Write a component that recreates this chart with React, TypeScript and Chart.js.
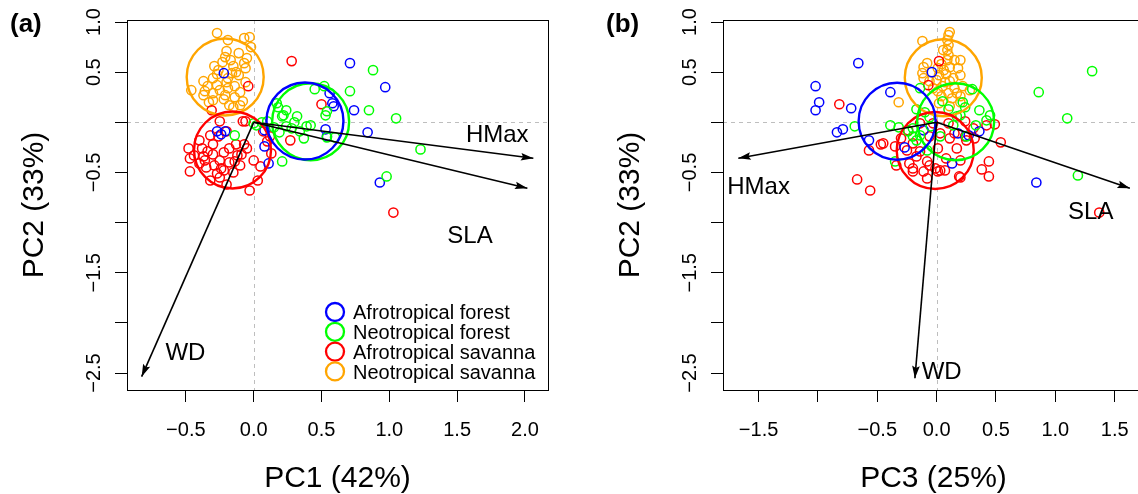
import React, { useEffect, useRef } from "react";
import { Chart, registerables } from "chart.js";

Chart.register(...registerables);

type Pt = [number, number];

const FONT = "'Liberation Sans', Arial, Helvetica, sans-serif";

// ---------- shared ----------
const groupLabels = ["Afrotropical forest", "Neotropical forest", "Afrotropical savanna", "Neotropical savanna"];
const groupColors = ["#0000FF", "#00FF00", "#FF0000", "#FFA500"];
const arrowNames = ["HMax", "SLA", "WD"];
const yTicks = [-2.5, -2, -1.5, -1, -0.5, 0, 0.5, 1];
const yTickLabels = ["−2.5", "", "−1.5", "", "−0.5", "", "0.5", "1.0"];
const yTitle = "PC2 (33%)";
const yRange: Pt = [-2.669, 1.02];

// ---------- panel (a): PC1 vs PC2 ----------
const blueA: Pt[] = [
  [-0.22, 0.49], [-0.27, -0.09], [-0.24, -0.12], [-0.21, -0.09], [0.08, -0.24], [0.11, -0.41],
  [0.08, -0.08], [0.71, 0.59], [0.97, 0.35], [0.74, 0.12], [0.84, -0.1], [0.93, -0.6],
  [0.56, 0.29], [0.58, 0.19], [0.59, 0.16], [0.53, -0.07], [0.54, -0.14],
];
const greenA: Pt[] = [
  [0.88, 0.52], [0.71, 0.31], [0.85, 0.12], [1.05, 0.04], [1.23, -0.27], [0.98, -0.54],
  [0.45, 0.33], [0.52, 0.36], [0.17, 0.19], [0.24, 0.12], [0.22, 0.07], [0.32, 0.06],
  [0.39, -0.04], [0.42, -0.03], [0.24, -0.04], [0.28, -0.06], [0.19, -0.1], [0.34, -0.09],
  [0.37, -0.16], [0.53, 0.07], [0.54, 0.11], [0.54, -0.15], [0.6, -0.15], [0.21, -0.39],
  [0.02, -0.03], [0.1, 0.01], [0.0, -0.01], [0.06, 0.0], [-0.14, -0.13], [0.21, 0.06],
  [0.18, 0.15], [0.3, 0.0], [0.15, -0.05],
];
const redA: Pt[] = [
  [-0.48, -0.26], [-0.47, -0.49], [-0.38, -0.26], [-0.37, -0.34], [-0.4, -0.41], [-0.34, -0.29],
  [-0.3, -0.32], [-0.25, -0.38], [-0.29, -0.43], [-0.27, -0.51], [-0.25, -0.55], [-0.22, -0.48],
  [-0.18, -0.26], [-0.13, -0.22], [-0.07, -0.22], [-0.09, -0.32], [-0.14, -0.39], [-0.1, -0.43],
  [0.0, -0.38], [0.03, -0.58], [-0.03, -0.68], [0.07, -0.09], [0.12, -0.14], [0.13, -0.31],
  [0.1, -0.19], [-0.25, 0.01], [-0.08, 0.01], [-0.2, -0.09], [-0.32, -0.13], [-0.06, 0.01],
  [0.28, 0.61], [-0.04, 0.36], [-0.31, 0.12], [0.5, 0.18], [0.27, -0.18], [1.03, -0.9],
  [-0.44, -0.33], [-0.35, -0.45], [-0.22, -0.3], [-0.18, -0.4], [-0.3, -0.22], [-0.26, -0.14],
  [-0.4, -0.18], [-0.15, -0.5], [-0.32, -0.58], [-0.47, -0.36], [-0.12, -0.33], [-0.05, -0.26],
  [-0.2, -0.62], [0.05, -0.44], [-0.24, -0.46], [-0.36, -0.38],
];
const orangeA: Pt[] = [
  [-0.27, 0.89], [-0.19, 0.82], [-0.07, 0.84], [-0.03, 0.85], [-0.02, 0.75], [-0.2, 0.71],
  [-0.11, 0.69], [-0.21, 0.65], [-0.17, 0.62], [-0.07, 0.59], [-0.06, 0.54], [-0.29, 0.56],
  [-0.13, 0.5], [-0.16, 0.49], [-0.27, 0.48], [-0.3, 0.44], [-0.19, 0.44], [-0.11, 0.47],
  [-0.37, 0.41], [-0.34, 0.36], [-0.27, 0.37], [-0.46, 0.32], [-0.36, 0.31], [-0.3, 0.29],
  [-0.25, 0.32], [-0.19, 0.34], [-0.06, 0.4], [-0.21, 0.27], [-0.14, 0.25], [-0.08, 0.21],
  [-0.3, 0.22], [-0.18, 0.17], [-0.1, 0.17], [-0.15, 0.15], [-0.37, 0.27], [-0.23, 0.6],
  [-0.15, 0.56], [-0.2, 0.4], [-0.26, 0.52], [-0.1, 0.3], [-0.33, 0.2], [-0.05, 0.64],
  [-0.22, 0.23], [-0.14, 0.36],
];
const centersA: Pt[] = [[0.378, 0.013], [0.42, 0.006], [-0.156, -0.276], [-0.21, 0.452]];
const arrowTipsA: Pt[] = [[2.062, -0.359], [2.018, -0.658], [-0.826, -2.536]];
const arrowLabelPosA: Pt[] = [[1.796, -0.115], [1.595, -1.114], [-0.503, -2.287]];
const xRangeA: Pt = [-0.934, 2.17];
const xTicksA = [-0.5, 0, 0.5, 1, 1.5, 2];
const xTickLabelsA = ["−0.5", "0.0", "0.5", "1.0", "1.5", "2.0"];
const xTitleA = "PC1 (42%)";

// ---------- panel (b): PC3 vs PC2 ----------
const blueB: Pt[] = [
  [-0.66, 0.59], [-1.02, 0.36], [-0.99, 0.2], [-1.02, 0.12], [-0.72, 0.14], [-0.84, -0.1],
  [-0.79, -0.07], [-0.39, 0.3], [-0.57, -0.18], [-0.27, -0.25], [-0.04, 0.5], [-0.11, -0.08],
  [0.18, -0.11], [0.27, -0.13], [0.36, -0.09], [0.13, -0.41], [0.84, -0.6],
];
const greenB: Pt[] = [
  [1.31, 0.51], [0.86, 0.3], [1.1, 0.04], [1.19, -0.53], [-0.69, -0.04], [-0.35, -0.39],
  [-0.39, -0.03], [-0.32, -0.05], [-0.14, 0.34], [-0.17, 0.13], [0.3, 0.33], [0.22, 0.2],
  [0.24, 0.15], [0.2, 0.07], [0.1, 0.13], [0.14, -0.03], [-0.06, 0.05], [-0.05, -0.04],
  [0.03, -0.14], [-0.08, -0.28], [-0.24, -0.09], [-0.2, -0.14], [-0.17, -0.18], [-0.14, -0.13],
  [0.25, -0.14], [0.33, -0.03], [0.42, 0.02], [0.45, 0.07], [0.17, 0.06], [0.05, 0.21],
  [-0.1, 0.1], [0.36, 0.12], [-0.2, -0.06],
];
const redB: Pt[] = [
  [0.02, 0.61], [-0.82, 0.18], [-0.47, -0.22], [-0.57, -0.28], [-0.67, -0.57], [-0.56, -0.68],
  [0.54, -0.2], [0.49, -0.02], [0.38, -0.47], [0.44, -0.54], [0.19, -0.54], [1.37, -0.9],
  [-0.08, -0.56], [0.01, -0.49], [-0.34, -0.43], [-0.07, 0.37], [-0.45, -0.21], [-0.35, -0.24],
  [-0.3, -0.16], [-0.24, -0.08], [-0.14, -0.01], [-0.03, -0.01], [0.1, -0.01], [0.24, 0.01],
  [0.31, -0.06], [0.42, -0.03], [-0.2, -0.21], [-0.25, -0.28], [-0.17, -0.34], [-0.23, -0.41],
  [-0.2, -0.46], [-0.2, -0.49], [-0.08, -0.39], [0.01, -0.26], [0.03, -0.48], [0.17, -0.26],
  [0.2, -0.38], [0.08, -0.36], [0.07, -0.48], [0.2, -0.55], [0.44, -0.39], [0.25, -0.18],
  [0.32, -0.16], [-0.06, -0.14], [0.03, -0.11], [0.11, -0.16], [-0.14, -0.29], [-0.06, -0.43],
  [-0.01, -0.46], [-0.11, -0.49], [0.24, -0.14], [0.15, -0.11],
];
const orangeB: Pt[] = [
  [-0.12, 0.81], [0.11, 0.9], [0.1, 0.87], [0.09, 0.82], [0.1, 0.77], [0.09, 0.72],
  [0.1, 0.67], [0.09, 0.62], [0.2, 0.62], [-0.08, 0.59], [-0.11, 0.55], [0.01, 0.54],
  [0.11, 0.55], [0.18, 0.54], [-0.12, 0.49], [0.02, 0.47], [0.08, 0.48], [0.2, 0.47],
  [-0.11, 0.44], [0.0, 0.42], [0.11, 0.41], [-0.06, 0.41], [0.05, 0.36], [0.15, 0.34],
  [0.22, 0.36], [0.01, 0.31], [0.1, 0.29], [0.17, 0.29], [0.04, 0.26], [0.13, 0.24],
  [0.2, 0.26], [0.02, 0.19], [-0.32, 0.2], [0.28, 0.32], [0.06, 0.52], [0.14, 0.44],
  [-0.03, 0.34], [0.07, 0.4], [0.15, 0.62], [0.04, 0.58], [0.2, 0.2], [0.11, 0.16],
  [0.055, 0.72],
];
const centersB: Pt[] = [[-0.333, 0.011], [0.16, 0.006], [-0.012, -0.281], [0.056, 0.444]];
const arrowTipsB: Pt[] = [[-1.671, -0.359], [1.628, -0.658], [-0.183, -2.552]];
const arrowLabelPosB: Pt[] = [[-1.5, -0.625], [1.298, -0.879], [0.042, -2.47]];
const xRangeB: Pt = [-1.8, 1.747];
const xTicksB = [-1.5, -1, -0.5, 0, 0.5, 1, 1.5];
const xTickLabelsB = ["−1.5", "", "−0.5", "0.0", "0.5", "1.0", "1.5"];
const xTitleB = "PC3 (25%)";

// ---------- panel specs ----------
interface Panel {
  tag: string;
  groups: Pt[][];
  centers: Pt[];
  tips: Pt[];
  labelPos: Pt[];
  xRange: Pt;
  xTicks: number[];
  xTickLabels: string[];
  xTitle: string;
  legend: boolean;
  left: number;
  width: number;
  yAxisWidth: number;
  padRight: number;
}

const panels: Panel[] = [
  {
    tag: "(a)", groups: [blueA, greenA, redA, orangeA], centers: centersA, tips: arrowTipsA,
    labelPos: arrowLabelPosA, xRange: xRangeA, xTicks: xTicksA, xTickLabels: xTickLabelsA,
    xTitle: xTitleA, legend: true, left: 0, width: 569, yAxisWidth: 127, padRight: 21,
  },
  {
    tag: "(b)", groups: [blueB, greenB, redB, orangeB], centers: centersB, tips: arrowTipsB,
    labelPos: arrowLabelPosB, xRange: xRangeB, xTicks: xTicksB, xTickLabels: xTickLabelsB,
    xTitle: xTitleB, legend: false, left: 569, width: 590, yAxisWidth: 154, padRight: 15,
  },
];

const HEIGHT = 494;
const X_AXIS_H = 104;
const PAD_TOP = 20;

function makePlugin(p: Panel) {
  return {
    id: "panelDecor",
    beforeDatasetsDraw(chart: any) {
      const { ctx, chartArea: a, scales } = chart;
      const x0 = scales.x.getPixelForValue(0);
      const y0 = scales.y.getPixelForValue(0);
      ctx.save();
      ctx.strokeStyle = "#BEBEBE";
      ctx.lineWidth = 1;
      ctx.setLineDash([4, 4]);
      ctx.beginPath();
      ctx.moveTo(Math.round(x0) + 0.5, a.top);
      ctx.lineTo(Math.round(x0) + 0.5, a.bottom);
      ctx.moveTo(a.left, Math.round(y0) + 0.5);
      ctx.lineTo(a.right, Math.round(y0) + 0.5);
      ctx.stroke();
      ctx.restore();
    },
    afterDatasetsDraw(chart: any) {
      const { ctx, chartArea: a, scales } = chart;
      ctx.save();
      // arrow heads
      p.tips.forEach((_, i) => {
        const meta = chart.getDatasetMeta(i);
        const s = meta.data[0];
        const e = meta.data[1];
        const ang = Math.atan2(e.y - s.y, e.x - s.x);
        const L = 13;
        const phi = 0.3;
        ctx.fillStyle = "#000";
        ctx.beginPath();
        ctx.moveTo(e.x, e.y);
        ctx.lineTo(e.x - L * Math.cos(ang - phi), e.y - L * Math.sin(ang - phi));
        ctx.lineTo(e.x - L * 0.8 * Math.cos(ang), e.y - L * 0.8 * Math.sin(ang));
        ctx.lineTo(e.x - L * Math.cos(ang + phi), e.y - L * Math.sin(ang + phi));
        ctx.closePath();
        ctx.fill();
      });
      // arrow labels
      ctx.font = `24px ${FONT}`;
      ctx.textAlign = "center";
      ctx.textBaseline = "alphabetic";
      ctx.fillStyle = "#000";
      p.labelPos.forEach((lp, i) => {
        const px = scales.x.getPixelForValue(lp[0]);
        const py = scales.y.getPixelForValue(lp[1]);
        ctx.fillText(arrowNames[i], px, py + 0.358 * 24);
      });
      // legend
      if (p.legend) {
        const mx = a.left + 208;
        const my0 = a.bottom - 78;
        ctx.font = `20px ${FONT}`;
        ctx.textAlign = "left";
        groupLabels.forEach((lab, i) => {
          const my = my0 + 19.8 * i;
          ctx.strokeStyle = groupColors[i];
          ctx.lineWidth = 2.3;
          ctx.beginPath();
          ctx.arc(mx, my, 9, 0, Math.PI * 2);
          ctx.stroke();
          ctx.fillStyle = "#000";
          ctx.fillText(lab, mx + 18, my + 0.358 * 20);
        });
      }
      ctx.restore();
    },
    afterDraw(chart: any) {
      const { ctx, chartArea: a, scales } = chart;
      ctx.save();
      // box
      ctx.strokeStyle = "#000";
      ctx.lineWidth = 1;
      ctx.strokeRect(Math.round(a.left) + 0.5, Math.round(a.top) + 0.5,
        Math.round(a.right - a.left), Math.round(a.bottom - a.top));
      ctx.fillStyle = "#000";
      // x tick labels
      ctx.font = `20px ${FONT}`;
      ctx.textAlign = "center";
      ctx.textBaseline = "alphabetic";
      p.xTicks.forEach((v, i) => {
        const lab = p.xTickLabels[i];
        if (!lab) return;
        ctx.fillText(lab, scales.x.getPixelForValue(v), a.bottom + 46);
      });
      // y tick labels (rotated)
      yTicks.forEach((v, i) => {
        const lab = yTickLabels[i];
        if (!lab) return;
        ctx.save();
        ctx.translate(a.left - 27, scales.y.getPixelForValue(v));
        ctx.rotate(-Math.PI / 2);
        ctx.fillText(lab, 0, 0);
        ctx.restore();
      });
      // axis titles
      ctx.font = `30px ${FONT}`;
      ctx.fillText(p.xTitle, (a.left + a.right) / 2, a.bottom + 97);
      ctx.save();
      ctx.translate(a.left - 84, (a.top + a.bottom) / 2);
      ctx.rotate(-Math.PI / 2);
      ctx.fillText(yTitle, 0, 0);
      ctx.restore();
      // panel tag
      ctx.font = `bold 26px ${FONT}`;
      ctx.textAlign = "left";
      ctx.fillText(p.tag, a.left - 117, 32);
      ctx.restore();
    },
  };
}

function makeConfig(p: Panel): any {
  const datasets: any[] = [];
  p.tips.forEach((t, i) => {
    datasets.push({
      label: arrowNames[i],
      data: [{ x: 0, y: 0 }, { x: t[0], y: t[1] }],
      showLine: true,
      borderColor: "#000",
      borderWidth: 1.6,
      pointRadius: 0,
      fill: false,
      order: 0,
    });
  });
  p.centers.forEach((c, i) => {
    datasets.push({
      label: groupLabels[i] + " centroid",
      data: [{ x: c[0], y: c[1] }],
      pointRadius: 38.5,
      borderWidth: 2.4,
      borderColor: groupColors[i],
      backgroundColor: "rgba(0,0,0,0)",
      order: 1,
    });
  });
  const pointOrders = [6, 5, 7, 8];
  p.groups.forEach((g, i) => {
    datasets.push({
      label: groupLabels[i],
      data: g.map(([x, y]) => ({ x, y })),
      pointRadius: 4.6,
      borderWidth: 1.5,
      borderColor: groupColors[i],
      backgroundColor: "rgba(0,0,0,0)",
      order: pointOrders[i],
    });
  });
  const axisCommon = {
    type: "linear",
    ticks: { display: false },
    grid: { drawOnChartArea: false, drawTicks: true, tickLength: 12, color: "#000", lineWidth: 1 },
    border: { display: false },
  };
  return {
    type: "scatter",
    data: { datasets },
    options: {
      responsive: false,
      animation: false,
      devicePixelRatio: 1,
      events: [],
      layout: { autoPadding: false, padding: { top: PAD_TOP, right: p.padRight, left: 0, bottom: 0 } },
      plugins: { legend: { display: false }, tooltip: { enabled: false } },
      scales: {
        x: {
          ...axisCommon,
          position: "bottom",
          min: p.xRange[0],
          max: p.xRange[1],
          afterBuildTicks: (s: any) => { s.ticks = p.xTicks.map((v) => ({ value: v })); },
          afterFit: (s: any) => { s.height = X_AXIS_H; },
        },
        y: {
          ...axisCommon,
          position: "left",
          min: yRange[0],
          max: yRange[1],
          afterBuildTicks: (s: any) => { s.ticks = yTicks.map((v) => ({ value: v })); },
          afterFit: (s: any) => { s.width = p.yAxisWidth; },
        },
      },
    },
    plugins: [makePlugin(p)],
  };
}

function PanelChart({ p }: { p: Panel }) {
  const ref = useRef<HTMLCanvasElement | null>(null);
  useEffect(() => {
    if (!ref.current) return;
    const chart = new Chart(ref.current, makeConfig(p));
    return () => chart.destroy();
  }, [p]);
  return (
    <canvas
      ref={ref}
      width={p.width}
      height={HEIGHT}
      style={{ position: "absolute", left: p.left, top: 0, width: p.width, height: HEIGHT, display: "block" }}
    />
  );
}

export default function App() {
  return (
    <div
      style={{
        position: "fixed", left: 0, top: 0, width: 1138, height: HEIGHT,
        overflow: "hidden", background: "#fff",
      }}
    >
      {panels.map((p) => (
        <PanelChart key={p.tag} p={p} />
      ))}
    </div>
  );
}
